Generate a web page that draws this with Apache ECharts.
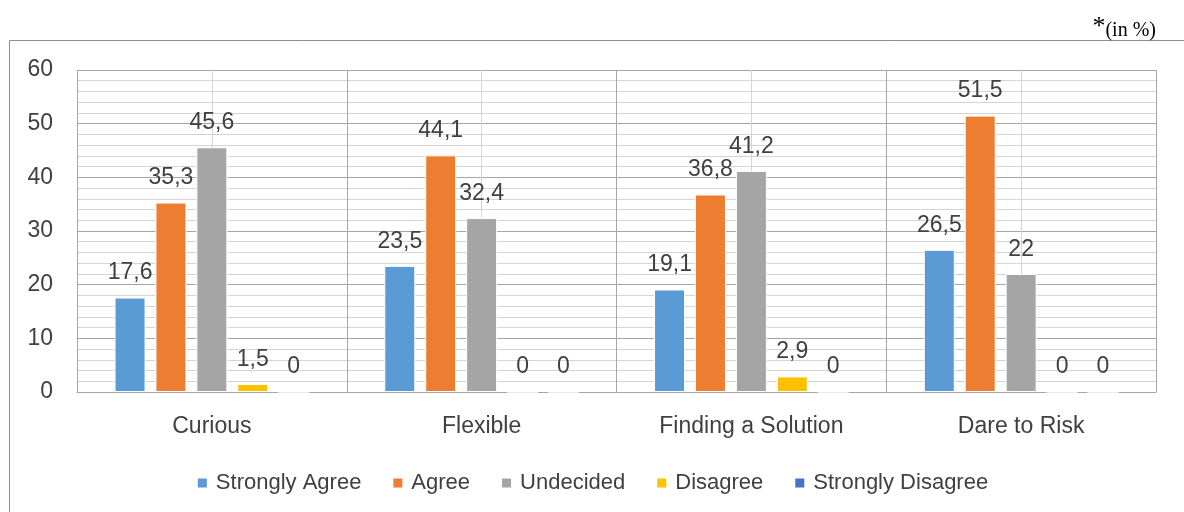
<!DOCTYPE html>
<html>
<head>
<meta charset="utf-8">
<script src="https://cdn.jsdelivr.net/npm/echarts@6/dist/echarts.min.js"></script>
<style>
  html, body { margin: 0; padding: 0; background: #fff; }
  #chart { width: 1184px; height: 512px; }
</style>
</head>
<body>
<div id="chart"></div>
<script>
// ==================== Data ====================
const categories = ['Curious', 'Flexible', 'Finding a Solution', 'Dare to Risk'];
const seriesNames = ['Strongly Agree', 'Agree', 'Undecided', 'Disagree', 'Strongly Disagree'];
const stronglyAgree = [17.6, 23.5, 19.1, 26.5];
const agree = [35.3, 44.1, 36.8, 51.5];
const undecided = [45.6, 32.4, 41.2, 22];
const disagree = [1.5, 0, 2.9, 0];
const stronglyDisagree = [0, 0, 0, 0];
const yTicks = [0, 10, 20, 30, 40, 50, 60];

const colors = ['#5B9BD5', '#ED7D31', '#A5A5A5', '#FFC000', '#4472C4'];
const values = [stronglyAgree, agree, undecided, disagree, stronglyDisagree];
const FONT = 'Liberation Sans';

// ==================== Chart ====================
const chart = echarts.init(document.getElementById('chart'));

const series = seriesNames.map((name, i) => ({
    name: name,
    type: 'bar',
    xAxisIndex: 0,
    data: values[i],
    barWidth: 31,
    barGap: '32%',
    itemStyle: { color: colors[i], borderColor: '#fff', borderWidth: 1 },
    label: {
        show: true,
        position: 'top',
        distance: 13,
        fontFamily: FONT,
        fontSize: 23,
        color: '#404040',
        formatter: p => String(p.value).replace('.', ',')
    }
}));

chart.setOption({
    animation: false,
    textStyle: { fontFamily: FONT },
    grid: { left: 77, right: 28, top: 70, bottom: 120 },
    graphic: [
        {
            type: 'rect',
            shape: { x: 9.5, y: 40.5, width: 1200, height: 500 },
            style: { fill: null, stroke: '#8c8c8c', lineWidth: 1 },
            z: -1
        },
        {
            type: 'text',
            right: 28,
            top: 14,
            style: {
                text: '{a|*}{b|(in %)}',
                rich: {
                    a: { fontFamily: 'Liberation Serif', fontSize: 26, fill: '#000' },
                    b: { fontFamily: 'Liberation Serif', fontSize: 20, fill: '#000', padding: [8, 0, 0, 0] }
                }
            }
        }
    ],
    legend: {
        data: seriesNames,
        top: 467,
        left: 'center',
        itemWidth: 11,
        itemHeight: 11,
        itemGap: 30,
        icon: 'rect',
        textStyle: { fontFamily: FONT, fontSize: 22, color: '#404040', padding: [0, 0, 0, 3] }
    },
    xAxis: [
        {
            type: 'category',
            data: categories,
            axisLine: { show: true, lineStyle: { color: '#a6a6a6' } },
            axisTick: { show: false },
            axisLabel: { fontFamily: FONT, fontSize: 23, color: '#404040', margin: 23 },
            splitLine: { show: false }
        },
        {
            type: 'value',
            position: 'bottom',
            min: 0,
            max: 8,
            interval: 1,
            axisLine: { show: false },
            axisTick: { show: false },
            axisLabel: { show: false },
            splitLine: { show: true, lineStyle: { color: ['#a6a6a6', '#d4d4d4'], width: 1 } }
        }
    ],
    yAxis: {
        type: 'value',
        min: yTicks[0],
        max: yTicks[yTicks.length - 1],
        interval: 10,
        axisLine: { show: false },
        axisTick: { show: false },
        axisLabel: { fontFamily: FONT, fontSize: 23, color: '#404040', margin: 24 },
        splitLine: { show: true, lineStyle: { color: '#a6a6a6' } },
        minorTick: { show: false, splitNumber: 5 },
        minorSplitLine: { show: true, lineStyle: { color: '#d4d4d4' } }
    },
    series: series
});
</script>
</body>
</html>
